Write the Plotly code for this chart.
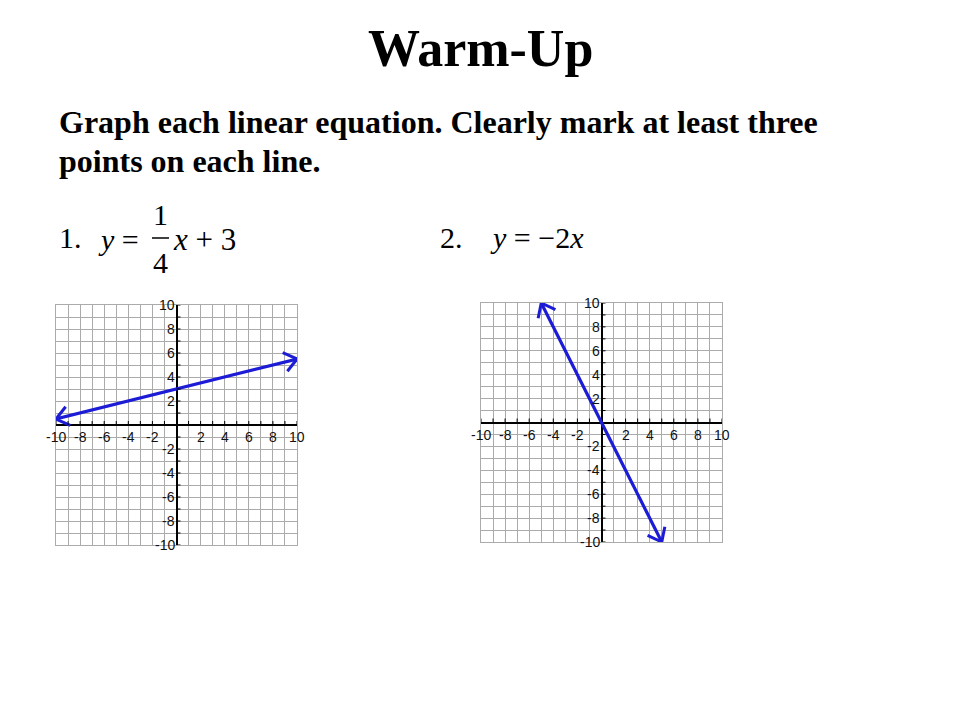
import math
import plotly.graph_objects as go
from plotly.subplots import make_subplots

# tick labels shown on each grid
tick_vals = [-10, -8, -6, -4, -2, 2, 4, 6, 8, 10]
tick_text = [str(v) for v in tick_vals]
unit_ticks = [v for v in range(-10, 11) if v != 0]

# line 1: y = 1/4 x + 3, endpoints
line1_x = [-10, 10]
line1_y = [0.5, 5.5]

# line 2: y = -2x
line2_x = [-5, 5]
line2_y = [10, -10]

BLUE = "#1c1cd6"
SERIF = "Liberation Serif, Times New Roman, serif"
SANS = "Liberation Sans, Arial, sans-serif"
OFF = 8  # page body margin, every pixel position below is shifted by it

fig = make_subplots(rows=1, cols=2)


def chevron(xs, ys, length=1.3, spread=38):
    # open arrowheads at both ends of a segment
    px, py = [], []
    ends = [(xs[0], ys[0], xs[1], ys[1]), (xs[1], ys[1], xs[0], ys[0])]
    for tx, ty, ox, oy in ends:
        ang = math.atan2(oy - ty, ox - tx)
        for s in (-1, 1):
            a = ang + s * math.radians(spread)
            px += [tx + length * math.cos(a), tx, None]
            py += [ty + length * math.sin(a), ty, None]
    return px, py


annotations = []
shapes = []
for col, (lx, ly) in enumerate([(line1_x, line1_y), (line2_x, line2_y)], start=1):
    xr = "x" if col == 1 else "x2"
    yr = "y" if col == 1 else "y2"
    # small tick marks: up from the x axis, right from the y axis
    for v in unit_ticks:
        shapes.append(dict(type="line", xref=xr, yref=yr, ysizemode="pixel", yanchor=0,
                           x0=v, x1=v, y0=0, y1=4, line=dict(color="black", width=1)))
        shapes.append(dict(type="line", xref=xr, yref=yr, xsizemode="pixel", xanchor=0,
                           x0=0, x1=4, y0=v, y1=v, line=dict(color="black", width=1)))
    # tick labels
    for v, t in zip(tick_vals, tick_text):
        annotations.append(dict(x=v, y=0, xref=xr, yref=yr, text=t, showarrow=False,
                                xanchor="center", yanchor="top", yshift=-2,
                                font=dict(family=SANS, size=14, color="#111")))
        annotations.append(dict(x=0, y=v, xref=xr, yref=yr, text=t, showarrow=False,
                                xanchor="right", yanchor="middle", xshift=0,
                                font=dict(family=SANS, size=14, color="#111")))
    # the line and its arrowheads
    fig.add_trace(go.Scatter(x=lx, y=ly, mode="lines", line=dict(color=BLUE, width=3.2),
                             cliponaxis=False, showlegend=False), row=1, col=col)
    ax, ay = chevron(lx, ly)
    fig.add_trace(go.Scatter(x=ax, y=ay, mode="lines", line=dict(color=BLUE, width=3),
                             cliponaxis=False, showlegend=False), row=1, col=col)

axis_style = dict(range=[-10, 10], dtick=1, showgrid=True, gridcolor="#ababab", gridwidth=1,
                  zeroline=True, zerolinecolor="black", zerolinewidth=1.5,
                  showline=True, linecolor="#ababab", mirror=True,
                  showticklabels=False, ticks="", fixedrange=True)

fig.update_xaxes(**axis_style)
fig.update_yaxes(**axis_style)


def px_x(p):
    return (p - OFF) / 960


def px_y(p):
    return 1 - (p - OFF) / 720


fig.update_layout(
    xaxis=dict(domain=[px_x(56), px_x(297)]),
    yaxis=dict(domain=[px_y(545), px_y(305)]),
    xaxis2=dict(domain=[px_x(481), px_x(722)]),
    yaxis2=dict(domain=[px_y(542), px_y(303)]),
)

texts = [
    dict(x=480, y=48, text="<b>Warm-Up</b>", xanchor="center", size=52),
    dict(x=57, y=122, text="<b>Graph each linear equation. Clearly mark at least three</b>",
         xanchor="left", size=32),
    dict(x=57, y=161, text="<b>points on each line.</b>", xanchor="left", size=32),
    dict(x=57, y=238, text="1.", xanchor="left", size=30),
    dict(x=96, y=240, text="<i>y</i> =", xanchor="left", size=30),
    dict(x=160, y=214, text="1", xanchor="center", size=30),
    dict(x=160, y=262, text="4", xanchor="center", size=30),
    dict(x=171, y=240, text="<i>x</i> + 3", xanchor="left", size=31),
    dict(x=438, y=238, text="2.", xanchor="left", size=30),
    dict(x=488, y=238, text="<i>y</i> = \u22122<i>x</i>", xanchor="left", size=30),
]
for t in texts:
    annotations.append(dict(x=px_x(t["x"]), y=px_y(t["y"]), xref="paper", yref="paper",
                            text=t["text"], showarrow=False, xanchor=t["xanchor"],
                            yanchor="middle", font=dict(family=SERIF, size=t["size"], color="black")))

# fraction bar
shapes.append(dict(type="line", xref="paper", yref="paper",
                   x0=px_x(152), x1=px_x(169), y0=px_y(238), y1=px_y(238),
                   line=dict(color="black", width=1.5)))

fig.update_layout(
    annotations=annotations,
    shapes=shapes,
    width=960, height=720,
    margin=dict(l=0, r=0, t=0, b=0),
    paper_bgcolor="white", plot_bgcolor="white",
    showlegend=False,
)

fig.write_html("out.html")
